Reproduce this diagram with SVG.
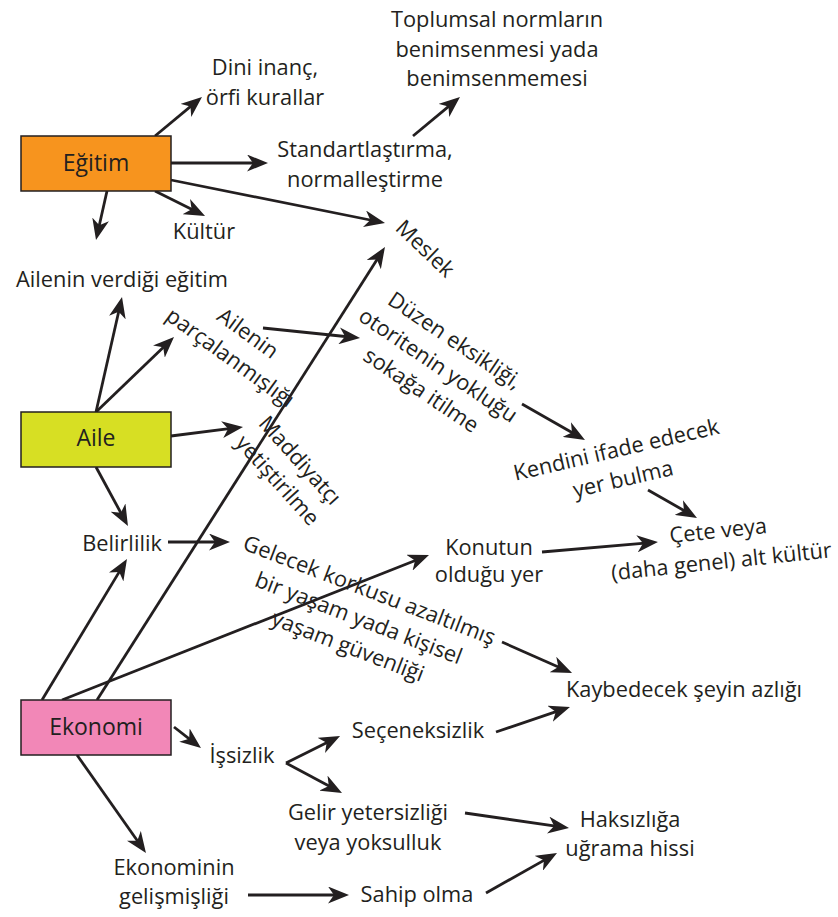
<svg xmlns="http://www.w3.org/2000/svg" width="838" height="917" viewBox="0 0 838 917">
<style>
text{font-family:"Open Sans","Noto Sans","DejaVu Sans",sans-serif;font-size:21.8px;fill:#231F20;text-anchor:middle}
.lbl{font-size:23px}
.box{stroke:#231F20;stroke-width:1.5}
.c path{fill:none;stroke:#231F20;stroke-width:2.8;marker-end:url(#ah)}
</style>
<defs>
<marker id="ah" markerUnits="userSpaceOnUse" markerWidth="21" markerHeight="17" refX="11" refY="8.5" orient="auto" viewBox="0 0 21 17">
<path d="M0,0 L21,8.5 L0,17 L6,8.5 z" fill="#231F20"/>
</marker>
</defs>
<rect width="838" height="917" fill="#fff"/>

<g class="c" id="connectors">
<path d="M155,136 L194.3,103.4"/>
<path d="M171,163 L258,163"/>
<path d="M171,180 L375.2,221"/>
<path d="M155,191 L196.1,211.5"/>
<path d="M107,191 L98.2,230.2"/>
<path d="M413,136 L452.3,103.4"/>
<path d="M96,412 L119.8,306.8"/>
<path d="M96,412 L166.8,343.9"/>
<path d="M171,436 L233.1,428.2"/>
<path d="M96,467 L123.2,517.2"/>
<path d="M263,328 L350.1,337"/>
<path d="M522,404 L576.3,435"/>
<path d="M648,490 L688.3,513"/>
<path d="M542,552 L648,542.9"/>
<path d="M62,700 L419.7,558.7"/>
<path d="M97,700 L379.6,255.4"/>
<path d="M42,700 L121.8,567.6"/>
<path d="M168,542 L220,542"/>
<path d="M502,642 L562.9,669"/>
<path d="M174,727 L193.1,741.9"/>
<path d="M286,763 L331.1,740.5"/>
<path d="M286,763 L333.2,788.3"/>
<path d="M496,732 L560.5,710.2"/>
<path d="M465,813 L559.1,826.6"/>
<path d="M77,755 L140.2,844.8"/>
<path d="M248,895 L339,895"/>
<path d="M486,893 L548.3,857.9"/>
</g>

<g id="egitim"><rect class="box" x="21" y="136" width="150" height="55" fill="#F7941E"/><text class="lbl" x="96" y="171">Eğitim</text></g>
<g id="aile"><rect class="box" x="21" y="412" width="150" height="55" fill="#D7DF23"/><text class="lbl" x="96" y="446">Aile</text></g>
<g id="ekonomi"><rect class="box" x="21" y="700" width="150" height="55" fill="#F287B7"/><text class="lbl" x="96" y="735">Ekonomi</text></g>

<g id="toplumsal"><text x="497" y="27">Toplumsal normların</text><text x="497" y="57">benimsenmesi yada</text><text x="497" y="86">benimsenmemesi</text></g>
<g id="dini"><text x="265" y="75">Dini inanç,</text><text x="265" y="105">örfi kurallar</text></g>
<g id="standart"><text x="365" y="157">Standartlaştırma,</text><text x="365" y="187">normalleştirme</text></g>
<g id="kultur"><text x="204" y="239">Kültür</text></g>
<g id="meslek"><text transform="translate(420,254) rotate(44)">Meslek</text></g>
<g id="ailenin-verdigi"><text x="122" y="287">Ailenin verdiği eğitim</text></g>
<g id="parcalanmis" transform="translate(238,347) rotate(36)"><text y="-9.5">Ailenin</text><text y="20.5">parçalanmışlığı</text></g>
<g id="maddiyatci" transform="translate(287,472) rotate(48)"><text y="-10">Maddiyatçı</text><text y="20">yetiştirilme</text></g>
<g id="duzen" transform="translate(437,367) rotate(34)"><text y="-24.5">Düzen eksikliği,</text><text y="5.5">otoritenin yokluğu</text><text y="35.5">sokağa itilme</text></g>
<g id="kendini" transform="translate(618,457) rotate(-13)"><text y="0">Kendini ifade edecek</text><text y="30">yer bulma</text></g>
<g id="cete" transform="translate(719,538) rotate(-6)"><text y="0">Çete veya</text><text y="31">(daha genel) alt kültür</text></g>
<g id="belirlilik"><text x="122" y="551">Belirlilik</text></g>
<g id="gelecek" transform="translate(358,620) rotate(21)"><text y="-24.5">Gelecek korkusu azaltılmış</text><text y="5.5">bir yaşam yada kişisel</text><text y="35.5">yaşam güvenliği</text></g>
<g id="konutun"><text x="489" y="555">Konutun</text><text x="489" y="582">olduğu yer</text></g>
<g id="kaybedecek"><text x="684" y="697">Kaybedecek şeyin azlığı</text></g>
<g id="issizlik"><text x="242" y="763">İşsizlik</text></g>
<g id="seceneksizlik"><text x="418" y="738">Seçeneksizlik</text></g>
<g id="gelir"><text x="368" y="820">Gelir yetersizliği</text><text x="368" y="850">veya yoksulluk</text></g>
<g id="haksizliga"><text x="630" y="827">Haksızlığa</text><text x="630" y="856">uğrama hissi</text></g>
<g id="ekonominin"><text x="174" y="875">Ekonominin</text><text x="174" y="904">gelişmişliği</text></g>
<g id="sahip"><text x="417" y="902">Sahip olma</text></g>
</svg>
